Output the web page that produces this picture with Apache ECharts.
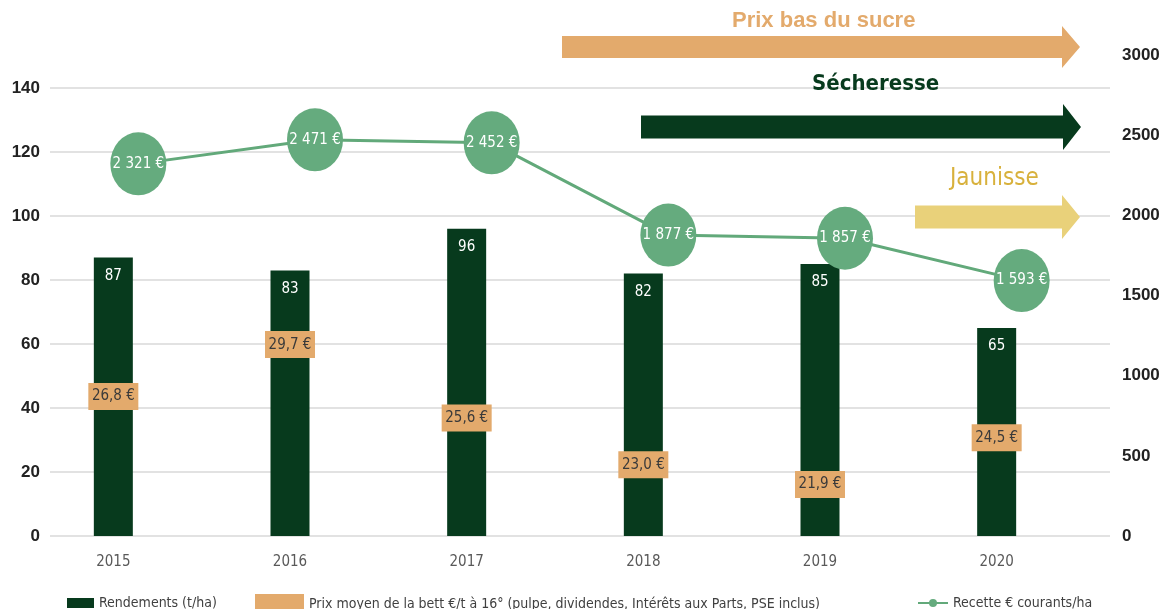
<!DOCTYPE html>
<html>
<head>
<meta charset="utf-8">
<script src="https://cdn.jsdelivr.net/npm/echarts@6/dist/echarts.min.js"></script>
<style>
  html, body { margin: 0; padding: 0; background: #fff; }
  #main { width: 1167px; height: 609px; }
</style>
</head>
<body>
<div id="main"></div>
<script>
  // données
  const annees = ['2015', '2016', '2017', '2018', '2019', '2020']
  const rendements = [87, 83, 96, 82, 85, 65]
  const prixBett = [26.8, 29.7, 25.6, 23.0, 21.9, 24.5]
  const recette = [2321, 2471, 2452, 1877, 1857, 1593]
  const ticksGauche = [0, 20, 40, 60, 80, 100, 120, 140]
  const ticksDroite = [0, 500, 1000, 1500, 2000, 2500, 3000]

  const police = "'Liberation Sans Narrow', 'DejaVu Sans Condensed', 'Open Sans', sans-serif"
  const vert = '#073a1d'
  const orange = '#e3aa6c'
  const vertClair = '#65ab7e'

  const fmtPrix = (v) => v.toFixed(1).replace('.', ',') + ' €'
  const fmtRecette = (v) => String(v).replace(/\B(?=(\d{3})+(?!\d))/g, ' ') + ' €'

  const chart = echarts.init(document.getElementById('main'))

  // flèche : corps + pointe
  const fleche = (x1, x2, yc, h, hh, color) => ({
    type: 'polygon',
    shape: {
      points: [
        [x1, yc - h / 2], [x2 - 18, yc - h / 2], [x2 - 18, yc - hh / 2],
        [x2, yc], [x2 - 18, yc + hh / 2], [x2 - 18, yc + h / 2], [x1, yc + h / 2]
      ]
    },
    style: { fill: color },
    z: 10
  })

  const option = {
    backgroundColor: '#fff',
    animation: false,
    textStyle: { fontFamily: police },
    grid: [
      // barres
      { left: 25, right: 82, top: 88, bottom: 73 },
      // quadrillage et axe gauche
      { left: 50, right: 57, top: 88, bottom: 73 },
      // courbe et axe droit
      { left: 50, right: 57, top: 55, bottom: 73 }
    ],
    legend: [
      {
        data: ['Rendements (t/ha)'], left: 62, top: 591, icon: 'rect',
        itemWidth: 27, itemHeight: 10, itemGap: 4,
        textStyle: { color: '#404040', fontSize: 14, fontFamily: police }
      },
      {
        data: ['Prix moyen de la bett €/t à 16° (pulpe, dividendes, Intérêts aux Parts, PSE inclus)'],
        left: 250, top: 589, icon: 'rect', itemWidth: 49, itemHeight: 20, itemGap: 6,
        textStyle: { color: '#404040', fontSize: 14, fontFamily: police }
      },
      {
        data: ['Recette € courants/ha'], left: 912, top: 591,
        itemWidth: 30, itemHeight: 10,
        textStyle: { color: '#404040', fontSize: 14, fontFamily: police }
      }
    ],
    xAxis: [
      {
        gridIndex: 0, type: 'category', data: annees,
        axisLine: { show: false }, axisTick: { show: false },
        axisLabel: { color: '#595959', fontSize: 15, margin: 19, fontFamily: police }
      },
      { gridIndex: 1, type: 'category', data: annees, show: false },
      { gridIndex: 2, type: 'category', data: annees, show: false }
    ],
    yAxis: [
      // 0 : barres
      { gridIndex: 0, type: 'value', min: 0, max: 140, show: false },
      // 1 : position des étiquettes de prix
      { gridIndex: 0, type: 'value', min: 19.02, max: 44.02, show: false },
      // 2 : axe gauche visible
      {
        gridIndex: 1, type: 'value', min: ticksGauche[0], max: ticksGauche[ticksGauche.length - 1], interval: 20,
        axisLine: { show: false }, axisTick: { show: false },
        axisLabel: { color: '#222', fontSize: 17, fontWeight: 'bold', margin: 10, fontFamily: 'Liberation Sans, Arial, sans-serif' },
        splitLine: { lineStyle: { color: '#d9d9d9', width: 1.5 } }
      },
      // 3 : axe droit visible
      {
        gridIndex: 2, type: 'value', position: 'right',
        min: ticksDroite[0], max: ticksDroite[ticksDroite.length - 1], interval: 500,
        axisLine: { show: false }, axisTick: { show: false }, splitLine: { show: false },
        axisLabel: {
          color: '#222', fontSize: 17, fontWeight: 'bold', margin: 12,
          fontFamily: 'Liberation Sans, Arial, sans-serif', formatter: (v) => String(v)
        }
      }
    ],
    series: [
      {
        name: 'Rendements (t/ha)', type: 'bar', xAxisIndex: 0, yAxisIndex: 0,
        data: rendements, barWidth: 39,
        itemStyle: { color: vert },
        label: {
          show: true, position: 'insideTop', distance: 11,
          color: '#fff', fontSize: 15, fontFamily: police
        },
        z: 2
      },
      {
        name: 'Prix moyen de la bett €/t à 16° (pulpe, dividendes, Intérêts aux Parts, PSE inclus)',
        type: 'scatter', xAxisIndex: 0, yAxisIndex: 1,
        data: prixBett, symbol: 'rect', symbolSize: [50, 27],
        itemStyle: { color: orange, opacity: 1 },
        label: {
          show: true, position: 'inside', color: '#3a3a3a', fontSize: 15,
          fontFamily: police, formatter: (p) => fmtPrix(p.value)
        },
        z: 5
      },
      {
        name: 'Recette € courants/ha', type: 'line', xAxisIndex: 2, yAxisIndex: 3,
        data: recette, symbol: 'circle', symbolSize: [56, 63],
        lineStyle: { color: '#62a97a', width: 3 },
        itemStyle: { color: vertClair },
        label: {
          show: true, position: 'inside', color: '#fff', fontSize: 15,
          fontFamily: police, formatter: (p) => fmtRecette(p.value)
        },
        z: 4
      }
    ],
    graphic: [
      fleche(562, 1080, 47, 22, 42, orange),
      fleche(641, 1081, 127, 23, 46, vert),
      fleche(915, 1080, 217, 23, 44, '#e9d17a'),
      {
        type: 'text', left: 732, top: 10, z: 10,
        style: { text: 'Prix bas du sucre', fill: orange, font: "bold 22px 'Liberation Sans', Arial, sans-serif" }
      },
      {
        type: 'text', left: 812, top: 73, z: 10,
        style: { text: 'Sécheresse', fill: vert, font: "bold 22px " + police }
      },
      {
        type: 'text', left: 950, top: 167, z: 10,
        style: { text: 'Jaunisse', fill: '#d8b13c', font: "24px " + police }
      }
    ]
  }

  chart.setOption(option)
</script>
</body>
</html>
